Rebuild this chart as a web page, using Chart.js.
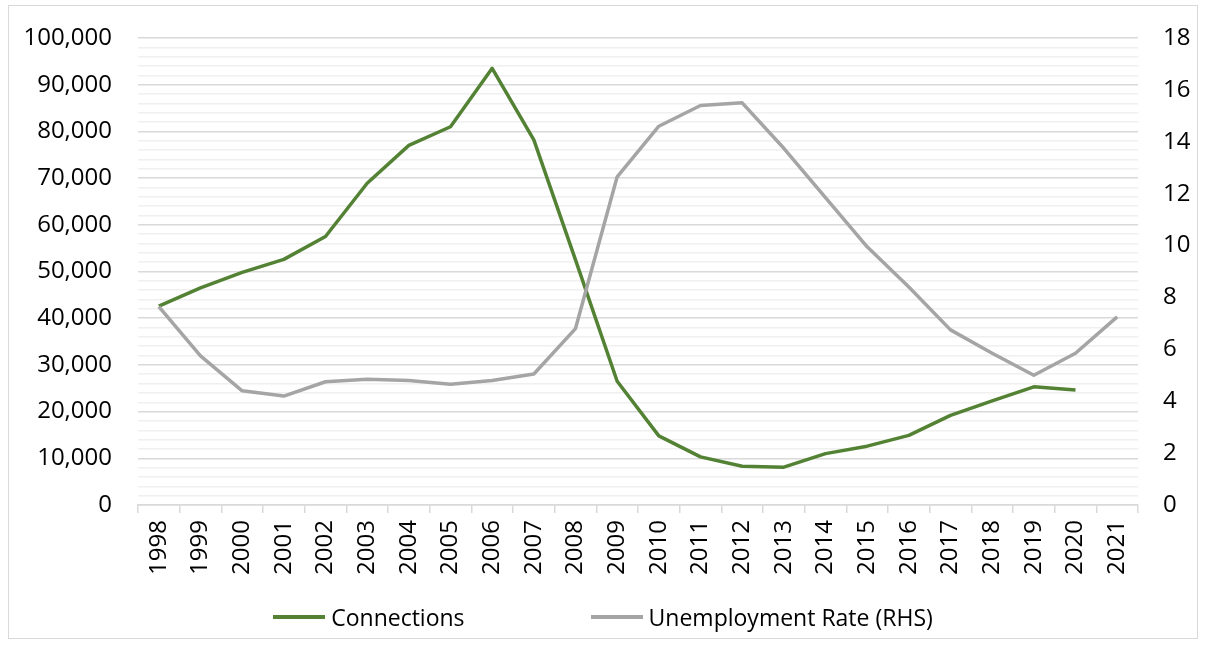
<!DOCTYPE html>
<html>
<head>
<meta charset="utf-8">
<script src="https://cdn.jsdelivr.net/npm/chart.js@4.4.0/dist/chart.umd.min.js"></script>
<style>
  body { margin: 0; background: #fff; }
  #wrap { position: relative; width: 1206px; height: 645px; }
  #frame { position: absolute; left: 8px; top: 5px; width: 1188px; height: 632px; border: 1.5px solid #d9d9d9; }
  #chart { position: absolute; left: 0; top: 0; }
  #legend { position: absolute; left: 0; top: 603px; width: 1206px; height: 28px;
            display: flex; justify-content: center; align-items: center; gap: 126px;
            font-family: "Open Sans", sans-serif; font-size: 23px; color: #000; }
  .item { display: flex; align-items: center; }
  .swatch { width: 52px; height: 3.5px; margin-right: 6px; }
</style>
</head>
<body>
<div id="wrap">
  <div id="frame"></div>
  <canvas id="chart" width="1206" height="645"></canvas>
  <div id="legend"></div>
</div>
<script>
var years = ["1998","1999","2000","2001","2002","2003","2004","2005","2006","2007","2008","2009",
             "2010","2011","2012","2013","2014","2015","2016","2017","2018","2019","2020","2021"];
var connections = [42600, 46500, 49800, 52600, 57500, 68900, 77000, 81000, 93500, 78200, 52500, 26500,
                   14800, 10300, 8300, 8100, 11000, 12600, 14900, 19200, 22300, 25300, 24600, null];
var unemployment = [7.65, 5.75, 4.4, 4.2, 4.75, 4.85, 4.8, 4.65, 4.8, 5.05, 6.8, 12.65,
                    14.6, 15.4, 15.5, 13.75, 11.85, 9.95, 8.4, 6.75, 5.85, 5.0, 5.85, 7.25];
var leftTicks = [0, 100000, 2000];   // min, max, minor step
var rightTicks = [0, 18, 2];

var font = { family: "'Open Sans', sans-serif", size: 24 };
var yFont = { family: "'Open Sans', sans-serif", size: 24, lineHeight: 1 };

var chart = new Chart(document.getElementById("chart").getContext("2d"), {
  type: "line",
  data: {
    labels: years,
    datasets: [
      { label: "Connections", data: connections, yAxisID: "y", order: 1,
        borderColor: "#548235", borderWidth: 3.5, pointRadius: 0, tension: 0,
        borderJoinStyle: "round", spanGaps: false },
      { label: "Unemployment Rate (RHS)", data: unemployment, yAxisID: "y1", order: 0,
        borderColor: "#a5a5a5", borderWidth: 3.5, pointRadius: 0, tension: 0,
        borderJoinStyle: "round" }
    ]
  },
  options: {
    responsive: false,
    animation: false,
    devicePixelRatio: 1,
    layout: { padding: { left: 0, right: 0, top: 37, bottom: 55 } },
    plugins: { legend: { display: false }, tooltip: { enabled: false } },
    scales: {
      x: {
        offset: true,
        grid: { offset: true, drawOnChartArea: false, drawTicks: true, tickLength: 8,
                color: "#d9d9d9", lineWidth: 1.5 },
        border: { color: "#d9d9d9", width: 1.5 },
        ticks: { font: font, color: "#000", minRotation: 90, maxRotation: 90, padding: 7, autoSkip: false },
        afterFit: function(s) { s.height = 85; }
      },
      y: {
        position: "left",
        min: leftTicks[0], max: leftTicks[1],
        grid: { drawTicks: false, lineWidth: 1.5,
                color: function(c) { return c.tick.value % 10000 === 0 ? "#d9d9d9" : "#f0f0f0"; } },
        border: { display: false },
        ticks: { stepSize: leftTicks[2], maxTicksLimit: 100, autoSkip: false, font: yFont, color: "#000", padding: 26,
                 callback: function(v) { return v % 10000 === 0 ? v.toLocaleString("en-US") : ""; } },
        afterFit: function(s) { s.width = 138; }
      },
      y1: {
        position: "right",
        min: rightTicks[0], max: rightTicks[1],
        grid: { drawOnChartArea: false, drawTicks: false },
        border: { display: false },
        ticks: { stepSize: rightTicks[2], font: yFont, color: "#000", padding: 25 },
        afterFit: function(s) { s.width = 68; }
      }
    }
  }
});

var legend = document.getElementById("legend");
chart.data.datasets.forEach(function(ds) {
  var item = document.createElement("div");
  item.className = "item";
  var sw = document.createElement("span");
  sw.className = "swatch";
  sw.style.background = ds.borderColor;
  var tx = document.createElement("span");
  tx.textContent = ds.label;
  item.appendChild(sw);
  item.appendChild(tx);
  legend.appendChild(item);
});
</script>
</body>
</html>
